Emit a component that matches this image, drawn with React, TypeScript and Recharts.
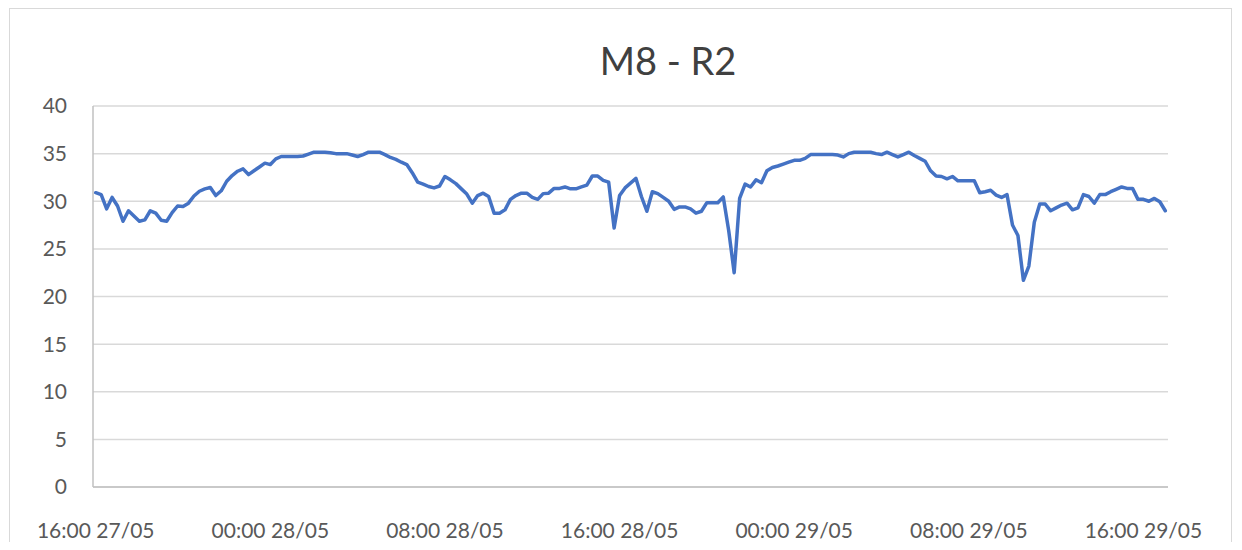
import React from "react";
import { LineChart, Line, XAxis, YAxis, CartesianGrid } from "recharts";

const TITLE = "M8 - R2";
const START_DAY = 27;
const START_HOUR = 16;
const STEP_MINUTES = 15;

const VALUES: number[] = [
  30.9, 30.7, 29.2, 30.4, 29.5, 27.9, 29.0, 28.45, 27.9, 28.05,
  29.0, 28.75, 28.0, 27.9, 28.8, 29.5, 29.45, 29.8, 30.55, 31.05,
  31.3, 31.45, 30.6, 31.1, 32.1, 32.7, 33.15, 33.4, 32.8, 33.2,
  33.6, 34.0, 33.85, 34.45, 34.7, 34.7, 34.7, 34.7, 34.75, 34.95,
  35.15, 35.15, 35.15, 35.1, 35.0, 35.0, 35.0, 34.85, 34.7, 34.9,
  35.15, 35.15, 35.15, 34.9, 34.6, 34.4, 34.1, 33.85, 33.0, 32.0,
  31.8, 31.55, 31.4, 31.6, 32.6, 32.25, 31.85, 31.3, 30.75, 29.8,
  30.6, 30.85, 30.5, 28.75, 28.75, 29.1, 30.2, 30.6, 30.85, 30.85,
  30.4, 30.2, 30.8, 30.85, 31.35, 31.35, 31.5, 31.3, 31.3, 31.5,
  31.7, 32.65, 32.65, 32.2, 32.0, 27.2, 30.6, 31.4, 31.9, 32.4,
  30.5, 28.95, 31.0, 30.8, 30.4, 30.0, 29.15, 29.4, 29.4, 29.2,
  28.75, 28.95, 29.85, 29.85, 29.85, 30.45, 26.9, 22.5, 30.3, 31.8,
  31.5, 32.25, 31.95, 33.2, 33.55, 33.7, 33.9, 34.1, 34.3, 34.3,
  34.5, 34.9, 34.9, 34.9, 34.9, 34.9, 34.85, 34.65, 35.0, 35.15,
  35.15, 35.15, 35.15, 35.0, 34.9, 35.15, 34.9, 34.65, 34.9, 35.15,
  34.8, 34.5, 34.2, 33.2, 32.65, 32.6, 32.35, 32.6, 32.15, 32.15,
  32.15, 32.15, 30.9, 31.0, 31.15, 30.65, 30.4, 30.7, 27.5, 26.4,
  21.7, 23.2, 27.8, 29.7, 29.7, 29.0, 29.3, 29.6, 29.8, 29.1,
  29.3, 30.7, 30.5, 29.8, 30.7, 30.7, 31.0, 31.25, 31.5, 31.35,
  31.35, 30.2, 30.2, 30.0, 30.3, 29.95, 29.0,
];

const Y_TICKS = [0, 5, 10, 15, 20, 25, 30, 35, 40];

const pad = (n: number) => (n < 10 ? "0" + n : String(n));

const CATEGORIES: string[] = VALUES.map((_, i) => {
  const totalMin = START_HOUR * 60 + i * STEP_MINUTES;
  const day = START_DAY + Math.floor(totalMin / 1440);
  const m = totalMin % 1440;
  return `${pad(Math.floor(m / 60))}:${pad(m % 60)} ${pad(day)}/05`;
});

const data = VALUES.map((v, i) => ({ t: CATEGORIES[i], v }));

const FONT = "Lato, 'Liberation Sans', sans-serif";

export default function App() {
  return (
    <div style={{ position: "relative", width: 1242, height: 550, margin: -8, background: "#fff", overflow: "hidden" }}>
      <div
        style={{
          position: "absolute",
          left: 9,
          top: 8,
          width: 1223,
          height: 560,
          border: "1px solid #d9d9d9",
          boxSizing: "border-box",
        }}
      />
      <div
        style={{
          position: "absolute",
          left: 468,
          width: 400,
          top: 36,
          textAlign: "center",
          fontFamily: FONT,
          fontSize: 38,
          color: "#404040",
          lineHeight: "48px",
        }}
      >
        {TITLE}
      </div>
      <div style={{ position: "absolute", left: 0, top: 0 }}>
        <LineChart
          width={1242}
          height={550}
          data={data}
          margin={{ top: 106, right: 74, bottom: 0, left: 0 }}
        >
          <CartesianGrid vertical={false} stroke="#d9d9d9" strokeWidth={1.5} />
          <XAxis
            dataKey="t"
            type="category"
            interval={31}
            padding={{ left: 2.73, right: 2.73 }}
            height={63}
            tickLine={false}
            axisLine={{ stroke: "#c0c0c0", strokeWidth: 1.5 }}
            tickMargin={30}
            tick={{ fill: "#595959", fontSize: 21, fontFamily: FONT }}
          />
          <YAxis
            domain={[0, 40]}
            ticks={Y_TICKS}
            width={93}
            tickLine={false}
            axisLine={{ stroke: "#c0c0c0", strokeWidth: 1.5 }}
            tickMargin={20}
            tick={{ fill: "#595959", fontSize: 21, fontFamily: FONT }}
          />
          <Line
            type="linear"
            dataKey="v"
            stroke="#4472C4"
            strokeWidth={3.5}
            dot={false}
            isAnimationActive={false}
            strokeLinejoin="round"
            strokeLinecap="round"
          />
        </LineChart>
      </div>
    </div>
  );
}
